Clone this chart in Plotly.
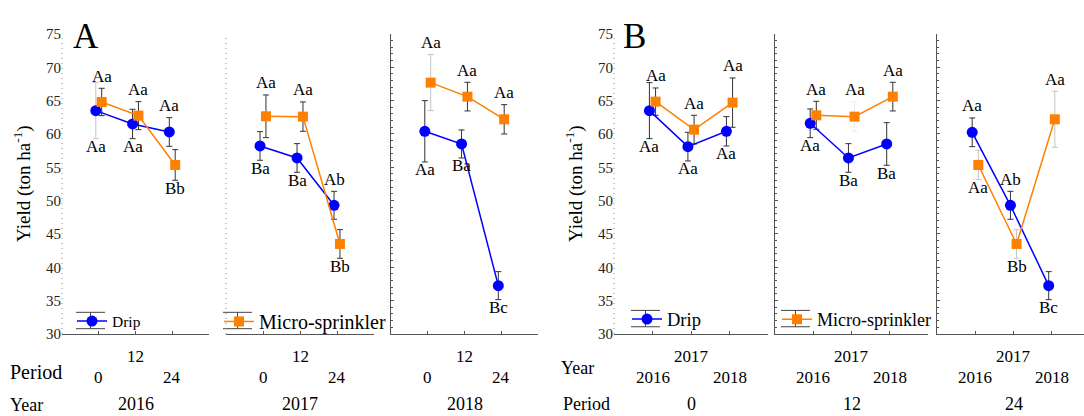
import plotly.graph_objects as go

# ---------------------------------------------------------------------------
# Data
# ---------------------------------------------------------------------------
PERIODS = ["0", "12", "24"]
YEARS = ["2016", "2017", "2018"]

# Panel A: one sub-panel per year, x = period (0, 12, 24)
drip_A = [[63.5, 61.5, 60.3], [58.2, 56.4, 49.3], [60.4, 58.5, 37.25]]
drip_A_se = [[4.2, 2.2, 2.15], [2.15, 2.15, 2.1], [4.6, 2.1, 2.1]]
micro_A = [[64.8, 62.75, 55.35], [62.65, 62.6, 43.5], [67.7, 65.6, 62.2]]
micro_A_se = [[2.05, 2.1, 2.3], [3.2, 2.2, 2.15], [4.2, 2.15, 2.2]]
drip_A_letters = [["Aa", "Aa", "Aa"], ["Ba", "Ba", "Ab"], ["Aa", "Ba", "Bc"]]
micro_A_letters = [["Aa", "Aa", "Bb"], ["Aa", "Aa", "Bb"], ["Aa", "Aa", "Aa"]]

# Panel B: one sub-panel per period, x = year (2016, 2017, 2018)
drip_B = [[63.5, 58.1, 60.4], [61.6, 56.4, 58.5], [60.25, 49.3, 37.25]]
drip_B_se = [[4.2, 2.15, 2.2], [2.15, 2.15, 3.2], [2.15, 2.1, 2.1]]
micro_B = [[64.85, 60.65, 64.7], [62.8, 62.6, 65.6], [55.35, 43.5, 62.2]]
micro_B_se = [[2.05, 2.15, 3.7], [2.1, 2.2, 2.15], [2.2, 2.15, 4.2]]
drip_B_letters = [["Aa", "Aa", "Aa"], ["Aa", "Ba", "Ba"], ["Aa", "Ab", "Bc"]]
micro_B_letters = [["Aa", "Aa", "Aa"], ["Aa", "Aa", "Aa"], ["Aa", "Bb", "Aa"]]

# ---------------------------------------------------------------------------
# Styling
# ---------------------------------------------------------------------------
W, H = 1084, 416
FONT = "Liberation Serif, Times New Roman, serif"
BLUE = "#0000FF"
ORANGE = "#FF8000"
AXIS = "#555555"
DARK_BAR = "#333333"
FAINT_BAR = "#c4c4c4"
GHOST_BAR = "#ececec"
DODGE = 0.08

# letter placement: "t" above the error bar, "b" below it
drip_A_side = [["b", "b", "t"], ["b", "b", "t"], ["b", "b", "b"]]
micro_A_side = [["t", "t", "b"], ["t", "t", "b"], ["t", "t", "t"]]
drip_B_side = [["b", "b", "b"], ["b", "b", "b"], ["t", "t", "b"]]
micro_B_side = [["t", "t", "t"], ["t", "t", "t"], ["b", "b", "t"]]

# error bars drawn in a lighter grey
bar_colour = {
    ("A", "drip", 0, 0): FAINT_BAR,
    ("A", "micro", 2, 0): FAINT_BAR,
    ("B", "micro", 1, 1): GHOST_BAR,
    ("B", "micro", 2, 0): FAINT_BAR,
    ("B", "micro", 2, 1): FAINT_BAR,
    ("B", "micro", 2, 2): FAINT_BAR,
}


def px_x(p):
    return p / W


def px_y(p):
    return 1 - p / H


# sub-plot frames in pixels
frames = {
    "A": [(62, 209), (226, 374), (391, 538)],
    "B": [(614, 768), (775, 928), (937, 1084)],
}
xranges = {
    "A": [[-1, 3], [-1, 3], [-1, 3]],
    "B": [[-1, 3], [-1, 3], [-1, 2.843]],
}
dotted_left = {("A", 0), ("A", 1), ("B", 0)}
Y_TOP, Y_BOT = 27, 339

fig = go.Figure()
layout = dict(
    width=W, height=H,
    margin=dict(l=0, r=0, t=0, b=0),
    paper_bgcolor="white", plot_bgcolor="white",
    showlegend=True,
    font=dict(family=FONT, color="black"),
)
annotations = []
shapes = []

panels = {
    "A": dict(series=[("drip", "Drip", drip_A, drip_A_se, drip_A_letters, drip_A_side),
                      ("micro", "Micro-sprinkler", micro_A, micro_A_se, micro_A_letters, micro_A_side)]),
    "B": dict(series=[("drip", "Drip", drip_B, drip_B_se, drip_B_letters, drip_B_side),
                      ("micro", "Micro-sprinkler", micro_B, micro_B_se, micro_B_letters, micro_B_side)]),
}
legend_slot = {("A", "drip", 0): "legend", ("A", "micro", 1): "legend2",
               ("B", "drip", 0): "legend3", ("B", "micro", 1): "legend4"}

n = 0
for panel in ["A", "B"]:
    for g in range(3):
        n += 1
        xa = "x" if n == 1 else f"x{n}"
        ya = "y" if n == 1 else f"y{n}"
        xkey = "xaxis" if n == 1 else f"xaxis{n}"
        ykey = "yaxis" if n == 1 else f"yaxis{n}"
        x0, x1 = frames[panel][g]
        dotted = (panel, g) in dotted_left
        first = g == 0

        layout[xkey] = dict(
            domain=[px_x(x0), px_x(x1)], range=xranges[panel][g], anchor=ya,
            showgrid=False, zeroline=False, showline=True, linecolor=AXIS, linewidth=1,
            ticks="inside", ticklen=3, tickcolor=AXIS, tickvals=[0, 1, 2],
            showticklabels=False, fixedrange=True,
        )
        yax = dict(
            domain=[px_y(Y_BOT), px_y(Y_TOP)], range=[30, 75], anchor=xa,
            showgrid=False, zeroline=False, dtick=5, tick0=30, fixedrange=True,
            showticklabels=first,
            tickfont=dict(family=FONT, size=15, color="#222"),
        )
        if dotted:
            yax.update(showline=False, ticks="")
            shapes.append(dict(type="line", xref="paper", yref="paper",
                               x0=px_x(x0), x1=px_x(x0), y0=px_y(Y_BOT), y1=px_y(Y_TOP),
                               line=dict(color="#888888", width=1, dash="1px,4px")))
        else:
            yax.update(showline=True, linecolor=AXIS, linewidth=1, ticks="inside",
                       ticklen=3, tickcolor=AXIS,
                       minor=dict(dtick=1, tick0=30, ticks="inside", ticklen=2, tickcolor=AXIS))
        layout[ykey] = yax

        # error bars first so markers sit on top
        for key, name, vals, ses, letters, sides in panels[panel]["series"]:
            off = -DODGE if key == "drip" else DODGE
            groups = {}
            for i in range(3):
                c = bar_colour.get((panel, key, g, i), DARK_BAR)
                groups.setdefault(c, ([], [], []))
                groups[c][0].append(i + off)
                groups[c][1].append(vals[g][i])
                groups[c][2].append(ses[g][i])
            for c, (xs, ys, es) in groups.items():
                fig.add_trace(go.Scatter(
                    x=xs, y=ys, xaxis=xa, yaxis=ya, mode="markers",
                    marker=dict(size=1, color="rgba(0,0,0,0)"),
                    error_y=dict(type="data", array=es, symmetric=True, color=c,
                                 thickness=1, width=3),
                    showlegend=False, hoverinfo="skip",
                ))

        for key, name, vals, ses, letters, sides in panels[panel]["series"]:
            off = -DODGE if key == "drip" else DODGE
            colour = BLUE if key == "drip" else ORANGE
            symbol = "circle" if key == "drip" else "square"
            size = 11 if key == "drip" else 10
            slot = legend_slot.get((panel, key, g))
            fig.add_trace(go.Scatter(
                x=[i + off for i in range(3)], y=vals[g], xaxis=xa, yaxis=ya,
                mode="lines+markers", name=name,
                line=dict(color=colour, width=1.5),
                marker=dict(color=colour, symbol=symbol, size=size, line=dict(width=0)),
                showlegend=slot is not None, legend=slot if slot else "legend",
            ))
            for i in range(3):
                up = sides[g][i] == "t"
                annotations.append(dict(
                    x=i + off, y=vals[g][i] + (ses[g][i] if up else -ses[g][i]),
                    xref=xa, yref=ya, text=letters[g][i], showarrow=False,
                    yanchor="middle", yshift=12 if up else -8,
                    font=dict(family=FONT, size=17, color="black"),
                ))

        # category labels under the axis
        inner = PERIODS if panel == "A" else YEARS
        outer = YEARS[g] if panel == "A" else PERIODS[g]
        for i, lab in enumerate(inner):
            annotations.append(dict(
                x=i, y=px_y(362 if i == 1 else 384), xref=xa, yref="paper",
                text=lab, showarrow=False, yanchor="middle",
                font=dict(family=FONT, size=17, color="black"),
            ))
        annotations.append(dict(
            x=1, y=px_y(412), xref=xa, yref="paper", text=outer, showarrow=False,
            yanchor="middle", font=dict(family=FONT, size=18, color="black"),
        ))

# row titles under the axes
row_titles = [("Period", 8, 379, 20), ("Year", 8, 413, 18),
              ("Year", 559, 374, 18), ("Period", 561, 412, 18)]
for txt, x, y, fs in row_titles:
    annotations.append(dict(x=px_x(x), y=px_y(y), xref="paper", yref="paper", text=txt,
                            showarrow=False, xanchor="left", yanchor="middle",
                            font=dict(family=FONT, size=fs, color="black")))

# y-axis titles and panel letters
for xc, letter, lx in [(23, "A", 71), (575, "B", 621)]:
    annotations.append(dict(x=px_x(xc), y=px_y(183), xref="paper", yref="paper",
                            text="Yield (ton ha<sup>-1</sup>)", textangle=-90, showarrow=False,
                            xanchor="center", yanchor="middle",
                            font=dict(family=FONT, size=19, color="black")))
    annotations.append(dict(x=px_x(lx), y=px_y(7), xref="paper", yref="paper",
                            text=letter, showarrow=False, xanchor="left", yanchor="top",
                            font=dict(family=FONT, size=35, color="black")))


def legend_at(xp, yp, fs):
    return dict(x=px_x(xp), y=px_y(yp), bgcolor="rgba(0,0,0,0)", borderwidth=0,
                xanchor="left", yanchor="middle", itemwidth=30,
                font=dict(family=FONT, size=fs, color="black"))


legend_places = [("legend", 72, 326, 15.5), ("legend2", 219, 326, 20),
                 ("legend3", 627, 324, 18.5), ("legend4", 777, 324, 18)]
for lname, lx, ly, fs in legend_places:
    layout[lname] = legend_at(lx, ly, fs)
    # error-bar glyph behind each legend symbol
    gx0, gx1, gyc = lx + 4, lx + 33, ly - 1
    for dy in (-8.5, 8.5):
        shapes.append(dict(type="line", xref="paper", yref="paper", layer="below",
                           x0=px_x(gx0), x1=px_x(gx1), y0=px_y(gyc + dy), y1=px_y(gyc + dy),
                           line=dict(color="#444444", width=1)))
    shapes.append(dict(type="line", xref="paper", yref="paper", layer="below",
                       x0=px_x((gx0 + gx1) / 2), x1=px_x((gx0 + gx1) / 2),
                       y0=px_y(gyc - 8.5), y1=px_y(gyc + 8.5),
                       line=dict(color="#444444", width=1)))

layout["annotations"] = annotations
layout["shapes"] = shapes
fig.update_layout(**layout)

fig.write_html("out.html")
